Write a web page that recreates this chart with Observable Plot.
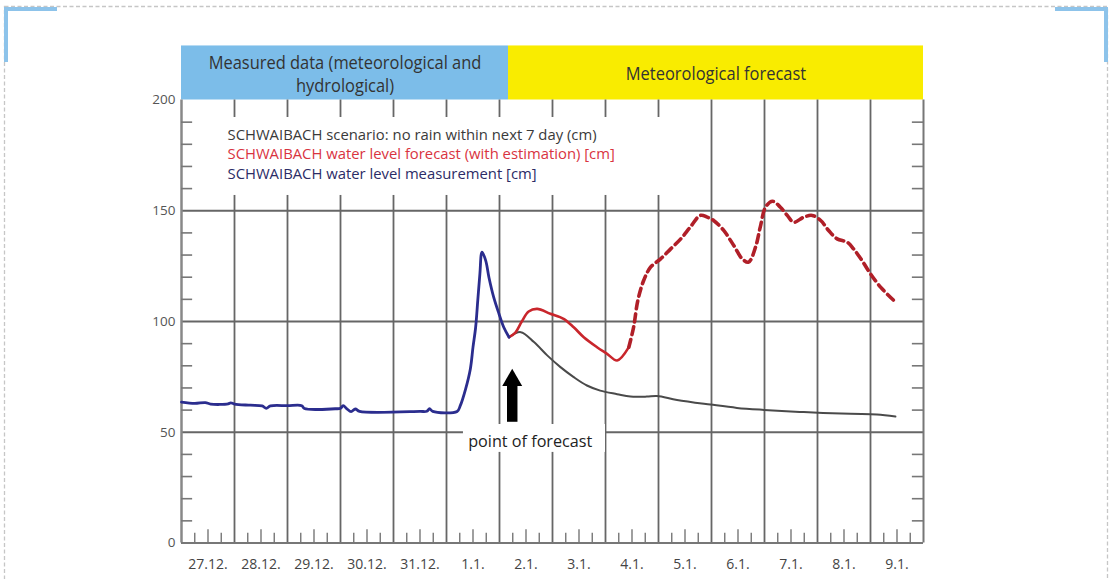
<!DOCTYPE html>
<html><head><meta charset="utf-8">
<script src="https://cdn.jsdelivr.net/npm/d3@7"></script>
<script src="https://cdn.jsdelivr.net/npm/@observablehq/plot@0.6"></script>
<style>
html,body{margin:0;padding:0;background:#fff;overflow:hidden;width:1111px;height:579px;}
.abs{position:absolute;left:0;top:0;}
.br{position:absolute;background:#8dc3ea;}
</style></head><body>
<svg class="abs" width="1111" height="579"><rect x="4.5" y="6.5" width="1103" height="620" fill="none" stroke="#c6c6c6" stroke-width="1.3" stroke-dasharray="4 2.5"/></svg>
<div class="br" style="left:4px;top:7px;width:53px;height:4px"></div>
<div class="br" style="left:4px;top:7px;width:4px;height:55px"></div>
<div class="br" style="left:1055px;top:7px;width:53px;height:4px"></div>
<div class="br" style="left:1104px;top:7px;width:4px;height:55px"></div>
<div id="chart" class="abs"></div>
<script>
// x = days since 27.12. 00:00, y = water level [cm]
const dayLabels = ["27.12.","28.12.","29.12.","30.12.","31.12.","1.1.","2.1.","3.1.","4.1.","5.1.","6.1.","7.1.","8.1.","9.1."];
const yTicks = [0, 50, 100, 150, 200];

const periods = [
  {name: "Measured data (meteorological and\nhydrological)", start: 0, end: 6.17},
  {name: "Meteorological forecast", start: 6.17, end: 14}
];

const legendItems = [
  {key: "scenario", text: "SCHWAIBACH scenario: no rain within next 7 day (cm)"},
  {key: "forecast", text: "SCHWAIBACH water level forecast (with estimation) [cm]"},
  {key: "measured", text: "SCHWAIBACH water level measurement [cm]"}
];

const measured = [
  [0, 63.6], [0.25, 63.0], [0.45, 63.4], [0.55, 62.7], [0.88, 62.8], [0.93, 63.3], [1.0, 62.7],
  [1.3, 62.2], [1.52, 61.9], [1.6, 60.8], [1.68, 61.9], [2.0, 62.0], [2.27, 62.0], [2.32, 60.7],
  [2.9, 60.6], [3.0, 60.8], [3.05, 62.0], [3.12, 60.6], [3.2, 59.3], [3.28, 60.5], [3.36, 59.4],
  [4.5, 59.4], [4.63, 59.5], [4.68, 60.6], [4.74, 59.4], [5.2, 59.4], [5.26, 62.0], [5.36, 69.5],
  [5.45, 78.6], [5.50, 88.4], [5.55, 97.4], [5.59, 109.5], [5.63, 121.5], [5.67, 131.3],
  [5.74, 127.5], [5.80, 120.0], [5.89, 111.0], [5.99, 103.5], [6.08, 97.4], [6.18, 92.9]
];

const forecast = [
  [6.18, 92.9], [6.30, 95.0], [6.42, 100.0], [6.55, 104.5], [6.71, 105.7], [6.96, 103.5], [7.21, 101.2],
  [7.40, 97.4], [7.59, 92.9], [7.84, 88.4], [8.03, 85.4], [8.22, 82.4], [8.44, 88.4],
  [8.53, 97.4], [8.61, 109.5], [8.72, 118.5], [8.85, 124.5], [9.04, 128.3], [9.23, 132.8],
  [9.42, 137.3], [9.60, 142.6], [9.79, 147.9], [9.92, 147.1], [10.04, 145.6], [10.23, 141.1],
  [10.42, 134.3], [10.58, 128.3], [10.70, 126.8], [10.83, 133.5], [10.92, 142.6], [11.02, 151.6],
  [11.15, 154.3], [11.30, 151.6], [11.43, 147.9], [11.55, 144.8], [11.74, 147.1], [11.90, 147.9],
  [12.06, 145.6], [12.21, 141.1], [12.37, 137.3], [12.56, 135.8], [12.68, 132.8], [12.84, 127.5],
  [13.00, 121.5], [13.19, 115.5], [13.44, 109.5]
];
const estimationFrom = 8.44; // dashed beyond this point

const scenario = [
  [6.18, 92.9], [6.40, 95.2], [6.65, 90.7], [6.90, 84.7], [7.15, 79.4], [7.40, 74.9],
  [7.65, 71.1], [7.90, 68.8], [8.22, 67.2], [8.47, 66.1], [8.78, 66.1], [8.97, 66.4],
  [9.35, 64.6], [9.98, 62.5], [10.48, 61.0], [10.99, 60.1], [11.74, 59.1], [12.62, 58.3],
  [13.12, 58.0], [13.47, 57.1]
];

const forecastPoint = {t: 6.24, label: "point of forecast"};

const colors = {measured: "#2b2d8e", forecast: "#c9262c", estimation: "#b01f28", scenario: "#4a4a4a"};
const legendColors = {scenario: "#3a3a3a", forecast: "#d9343f", measured: "#2c2c66"};

const days = d3.range(0, 14);
const gridDays = d3.range(1, 14);
const minorY = d3.range(10, 200, 10).filter(v => v % 50 !== 0);
const quarter = days.flatMap(d => [{t: d + 0.25, big: false}, {t: d + 0.5, big: true}, {t: d + 0.75, big: false}]);

const gridColor = "#666";
const font = "'Open Sans', 'Liberation Sans', sans-serif";
const headerFont = "'Open Sans', Lato, sans-serif";
const legendFont = "'Open Sans', Inter, sans-serif";

const chart = Plot.plot({
  width: 1111, height: 579,
  marginLeft: 181, marginRight: 188, marginTop: 99.5, marginBottom: 36.5,
  style: {fontFamily: font, fontSize: "14px", background: "transparent", overflow: "visible"},
  x: {domain: [0, 14]},
  y: {domain: [0, 200]},
  marks: [
    // header bands
    Plot.rect(periods, {x1: "start", x2: "end", y1: 200, y2: 224.4, fill: (d, i) => i === 0 ? "#7cbde9" : "#f9ec00"}),
    Plot.text(periods, {x: d => (d.start + d.end) / 2, y: 212.2, text: "name", fill: "#333", fontSize: 18.5, lineHeight: 1.25, fontFamily: headerFont}),
    // grid
    Plot.ruleX(gridDays, {y1: 0, y2: 200, stroke: gridColor, strokeWidth: 1.8}),
    Plot.ruleY([50, 100, 150], {x1: 0, x2: 14, stroke: gridColor, strokeWidth: 1.8}),
    // legend cover
    Plot.rect([0], {x1: 0.17, x2: 9.6, y1: 156.9, y2: 192.1, fill: "white"}),
    // axis frame
    Plot.ruleX([0], {y1: 0, y2: 200, stroke: "#888", strokeWidth: 2.5}),
    Plot.ruleX([14], {y1: 0, y2: 200, stroke: "#777", strokeWidth: 2}),
    Plot.ruleY([0], {x1: 0, x2: 14, stroke: "#777", strokeWidth: 2}),
    // minor ticks
    Plot.ruleY(minorY, {x1: 0, x2: 0.21, stroke: "#777", strokeWidth: 1.6}),
    Plot.ruleY(minorY, {x1: 13.79, x2: 14, stroke: "#777", strokeWidth: 1.6}),
    Plot.ruleX(quarter, {x: "t", y1: 0, y2: d => d.big ? 6 : 4.4, stroke: "#777", strokeWidth: 1.4}),
    // legend
    Plot.text(legendItems, {x: 0.868, y: (d, i) => 184.3 - i * 8.8, text: "text", textAnchor: "start", fill: d => legendColors[d.key], fontSize: 15, fontFamily: legendFont}),
    // series
    Plot.line(scenario, {x: d => d[0], y: d => d[1], stroke: colors.scenario, strokeWidth: 2, curve: "catmull-rom"}),
    Plot.line(forecast.filter(d => d[0] <= estimationFrom), {x: d => d[0], y: d => d[1], stroke: colors.forecast, strokeWidth: 2.6, curve: "catmull-rom"}),
    Plot.line(forecast.filter(d => d[0] >= estimationFrom), {x: d => d[0], y: d => d[1], stroke: colors.estimation, strokeWidth: 3.6, strokeDasharray: "8,5", curve: "catmull-rom"}),
    Plot.line(measured, {x: d => d[0], y: d => d[1], stroke: colors.measured, strokeWidth: 2.8, curve: "catmull-rom"}),
    // forecast point annotation
    Plot.rect([forecastPoint], {x1: 5.32, x2: 8.0, y1: 40.9, y2: 53.5, fill: "white"}),
    Plot.text([forecastPoint], {x: 6.58, y: 45.8, text: "label", fill: "#222", fontSize: 16.2}),
    Plot.ruleX([forecastPoint], {x: "t", y1: 54.5, y2: 74, stroke: "black", strokeWidth: 10.5}),
    Plot.dot([forecastPoint], {x: "t", y: 73.5, symbol: "triangle", r: 7.4, fill: "black"}),
    // axes
    Plot.axisY(yTicks, {tickSize: 0, tickPadding: 6, fill: "#555", fontSize: 13.5, label: null}),
    Plot.axisX(days.map(d => d + 0.5), {tickSize: 0, tickPadding: 16, tickFormat: (d) => dayLabels[Math.floor(d)], fill: "#444", fontSize: 14, label: null})
  ]
});

// the original uses a condensed typeface: squeeze these texts horizontally
function squeeze(selector, k) {
  d3.select(chart).selectAll(selector).each(function () {
    let t = this.getAttribute("transform");
    if (!t) {
      const x = this.getAttribute("x") || 0, y = this.getAttribute("y") || 0;
      this.removeAttribute("x"); this.removeAttribute("y");
      t = `translate(${x},${y})`;
    }
    this.setAttribute("transform", `${t} scale(${k},1)`);
  });
}
squeeze('g[font-family*="Lato"] text', 0.89);
squeeze('g[font-family*="Inter"] text', 0.99);
document.getElementById("chart").appendChild(chart);
</script>
</body></html>
